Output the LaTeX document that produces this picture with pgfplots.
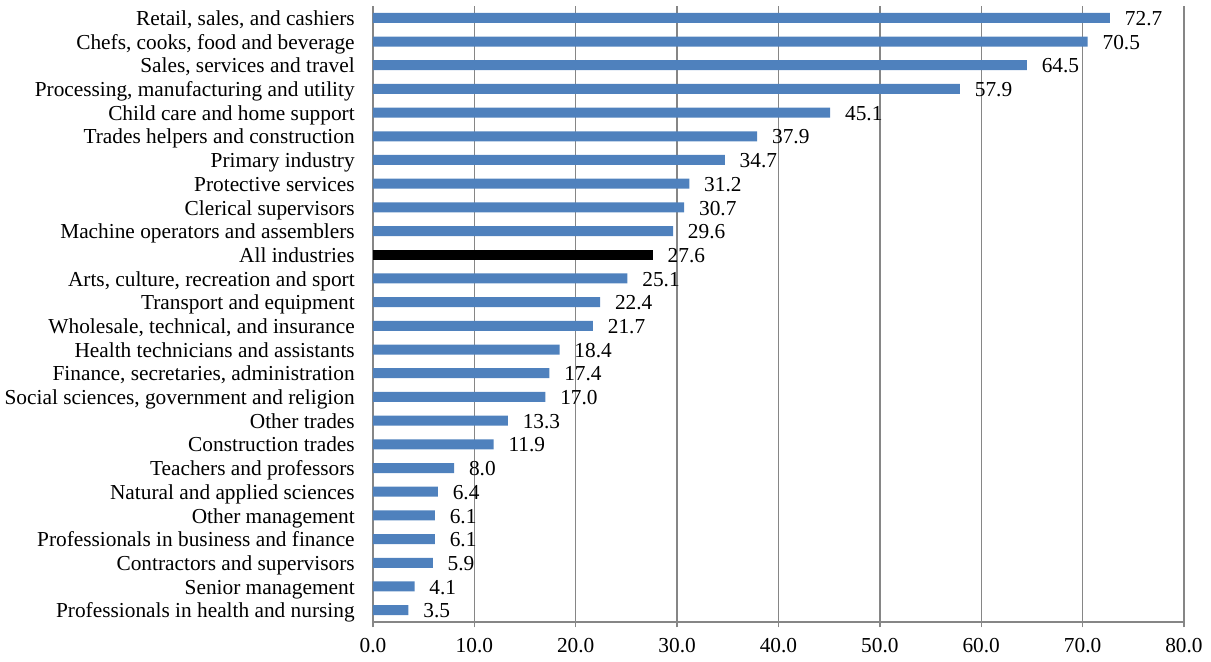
\documentclass[border=0pt]{standalone}
\usepackage{fontspec}
\setmainfont{Liberation Serif}
\usepackage{pgfplots}
\pgfplotsset{compat=1.18}
\usepackage{pgfplotstable}

\definecolor{barblue}{HTML}{4F81BD}
\definecolor{gridgray}{HTML}{868686}

% occupations, bottom to top; pos = row on the category axis
\pgfplotstableread[col sep=comma]{
pos,value
0,3.5
1,4.1
2,5.9
3,6.1
4,6.1
5,6.4
6,8.0
7,11.9
8,13.3
9,17.0
10,17.4
11,18.4
12,21.7
13,22.4
14,25.1
16,29.6
17,30.7
18,31.2
19,34.7
20,37.9
21,45.1
22,57.9
23,64.5
24,70.5
25,72.7
}\occupations

\pgfplotstableread[col sep=comma]{
pos,value
15,27.6
}\allindustries

\begin{document}
\begin{tikzpicture}
\useasboundingbox (-279.75pt,-29.25pt) rectangle (628.5pt,466.5pt);
\begin{axis}[
  scale only axis,
  width=608.25pt, height=462pt,
  xbar, bar width=7.5pt, bar shift=0pt,
  xmin=0, xmax=80,
  ymin=-0.5, ymax=25.5,
  axis x line*=bottom, axis y line*=left,
  axis line style={gridgray, line width=1.1pt},
  xtick={0,10,...,80},
  xmajorgrids,
  grid style={gridgray, line width=1.1pt},
  tick align=outside,
  major tick length=4pt,
  minor tick length=4pt,
  xtick style={gridgray, line width=1.1pt},
  ytick={0,...,25},
  ytick style={draw=none},
  minor ytick={-0.5,0.5,...,25.5},
  minor tick style={gridgray, line width=1.1pt},
  yticklabels={
    Professionals in health and nursing,
    Senior management,
    Contractors and supervisors,
    Professionals in business and finance,
    Other management,
    Natural and applied sciences,
    Teachers and professors,
    Construction trades,
    Other trades,
    {Social sciences, government and religion},
    {Finance, secretaries, administration},
    Health technicians and assistants,
    {Wholesale, technical, and insurance},
    Transport and equipment,
    {Arts, culture, recreation and sport},
    All industries,
    Machine operators and assemblers,
    Clerical supervisors,
    Protective services,
    Primary industry,
    Trades helpers and construction,
    Child care and home support,
    {Processing, manufacturing and utility},
    {Sales, services and travel},
    {Chefs, cooks, food and beverage},
    {Retail, sales, and cashiers}
  },
  /pgf/number format/assume math mode=true,
  xticklabel={\pgfmathprintnumber[fixed,fixed zerofill,precision=1]{\tick}},
  tick label style={font=\fontsize{16}{19}\selectfont, black},
  yticklabel style={inner sep=0pt, text height=11pt, text depth=3.5pt, xshift=-9.5pt, yshift=-2pt},
  xticklabel style={inner sep=0pt, yshift=-8pt},
  nodes near coords={\pgfmathprintnumber[fixed,fixed zerofill,precision=1]{\pgfplotspointmeta}},
  point meta=x,
  nodes near coords style={font=\fontsize{16}{19}\selectfont, black, anchor=west,
    inner sep=0pt, text height=11pt, text depth=3.5pt, xshift=11pt, yshift=-2pt},
]
\addplot[fill=barblue, draw=none] table[x=value, y=pos] {\occupations};
\addplot[fill=black, draw=none] table[x=value, y=pos] {\allindustries};
\end{axis}
\end{tikzpicture}
\end{document}
